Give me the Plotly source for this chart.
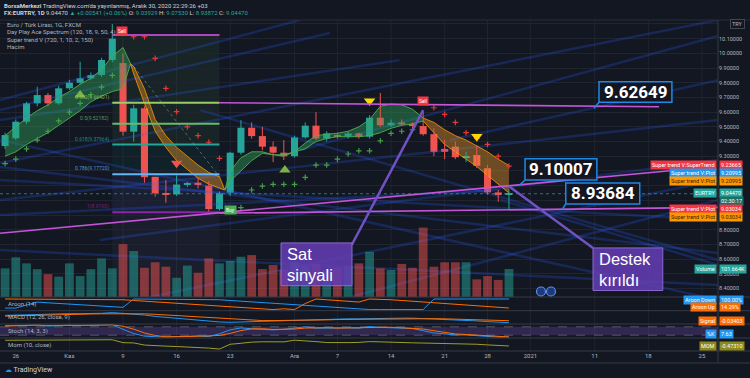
import plotly.graph_objects as go

# ---------------- DATA ----------------
idx = list(range(-1, 47))  # trading-day index, 0 = 26 Oct 2020
opens = [9.369, 9.422, 9.535, 9.660, 9.716, 9.660, 9.762, 9.800, 9.830, 9.853,
         9.955, 9.934, 9.467, 9.626, 9.160, 9.050, 9.040, 9.107, 9.120, 9.100,
         8.940, 9.052, 9.324, 9.494, 9.437, 9.365, 9.324, 9.300, 9.428, 9.508,
         9.420, 9.440, 9.437, 9.455, 9.433, 9.562, 9.510, 9.530, 9.520, 9.505,
         9.450, 9.350, 9.365, 9.293, 9.308, 9.218, 9.054, 9.03929]
highs = [9.46, 9.55, 9.67, 9.773, 9.73, 9.78, 9.82, 9.943, 9.87, 9.97,
         10.20, 10.00, 9.65, 9.64, 9.16, 9.139, 9.17, 9.125, 9.15, 9.13,
         9.06, 9.33, 9.545, 9.53, 9.50, 9.40, 9.41, 9.44, 9.53, 9.60,
         9.47, 9.46, 9.47, 9.46, 9.58, 9.73, 9.55, 9.55, 9.53, 9.60,
         9.49, 9.41, 9.40, 9.33, 9.376, 9.24, 9.07, 9.0753]
lows = [9.35, 9.41, 9.52, 9.64, 9.64, 9.65, 9.75, 9.79, 9.82, 9.84,
        9.94, 9.44, 9.40, 9.12, 9.025, 8.983, 9.03, 9.09, 9.08, 8.92,
        8.93, 9.03, 9.31, 9.42, 9.34, 9.26, 9.274, 9.29, 9.42, 9.41,
        9.40, 9.42, 9.42, 9.42, 9.42, 9.50, 9.50, 9.51, 9.50, 9.44,
        9.30, 9.28, 9.28, 9.26, 9.22, 9.04, 8.99, 8.93872]
closes = [9.444, 9.535, 9.660, 9.716, 9.660, 9.762, 9.800, 9.830, 9.852, 9.955,
          10.100, 9.467, 9.626, 9.157, 9.048, 9.040, 9.107, 9.115, 9.110, 8.940,
          9.047, 9.324, 9.494, 9.437, 9.365, 9.324, 9.300, 9.428, 9.508, 9.420,
          9.455, 9.437, 9.455, 9.433, 9.562, 9.510, 9.528, 9.516, 9.510, 9.450,
          9.330, 9.330, 9.293, 9.300, 9.235, 9.054, 9.036, 9.0447]
volume_k = [104, 144, 122, 101, 83, 74, 122, 76, 101, 140,
            104, 192, 167, 106, 126, 110, 70, 114, 88, 140,
            122, 131, 146, 152, 101, 116, 98, 127, 113, 120,
            98, 105, 113, 122, 164, 104, 98, 120, 106, 252,
            110, 126, 126, 126, 64, 76, 62, 101.664]

aroon_up = [100, 100, 100, 100, 93, 100, 100, 100, 100, 100,
            100, 93, 86, 79, 71, 64, 57, 50, 43, 36,
            29, 21, 14, 7, 0, 0, 7, 0, 57, 100,
            93, 86, 79, 71, 100, 100, 93, 86, 79, 71,
            64, 57, 50, 43, 36, 29, 21, 14.29]
aroon_down = [14, 14, 43, 71, 64, 57, 50, 43, 36, 29,
              28, 21, 100, 100, 100, 100, 100, 100, 100, 100,
              93, 86, 79, 71, 64, 57, 50, 43, 36, 29,
              21, 14, 7, 0, 0, 0, 0, 0, 7, 0,
              100, 100, 100, 100, 100, 100, 100, 100]
macd = [0.12, 0.13, 0.15, 0.16, 0.16, 0.17, 0.17, 0.17, 0.17, 0.18,
        0.20, 0.18, 0.17, 0.13, 0.09, 0.06, 0.03, 0.01, -0.01, -0.04,
        -0.07, -0.08, -0.07, -0.05, -0.04, -0.03, -0.03, -0.02, -0.01, 0.00,
        0.02, 0.02, 0.02, 0.02, 0.03, 0.04, 0.04, 0.04, 0.04, 0.03,
        0.02, 0.00, -0.02, -0.03, -0.04, -0.06, -0.08, -0.09]
signal = [0.10, 0.11, 0.12, 0.13, 0.14, 0.145, 0.15, 0.155, 0.16, 0.165,
          0.17, 0.175, 0.175, 0.165, 0.15, 0.13, 0.11, 0.09, 0.07, 0.05,
          0.03, 0.01, -0.01, -0.02, -0.03, -0.03, -0.03, -0.03, -0.025, -0.02,
          -0.01, 0.0, 0.005, 0.01, 0.015, 0.02, 0.025, 0.03, 0.03, 0.03,
          0.025, 0.02, 0.01, 0.0, -0.01, -0.02, -0.03, -0.03403]
stoch_k = [88, 90, 92, 93, 85, 90, 92, 90, 91, 94,
           96, 62, 32, 13, 8, 6, 10, 14, 15, 10,
           30, 58, 72, 66, 60, 58, 62, 72, 80, 70,
           72, 70, 72, 70, 82, 76, 73, 72, 68, 52,
           36, 30, 22, 22, 16, 9, 6, 7.63]
stoch_d = [85, 88, 90, 92, 90, 89, 89, 91, 91, 92,
           94, 84, 63, 36, 18, 9, 8, 10, 13, 13,
           18, 33, 53, 65, 66, 61, 60, 64, 71, 74,
           74, 71, 71, 71, 75, 76, 77, 74, 71, 64,
           52, 39, 29, 25, 20, 16, 10, 7.5]
mom = [0.60, 0.62, 0.66, 0.68, 0.62, 0.66, 0.68, 0.70, 0.72, 0.75,
       0.70, 0.15, 0.10, -0.30, -0.45, -0.50, -0.58, -0.65, -0.75, -0.87,
       -1.05, -0.15, 0.03, 0.25, 0.32, 0.28, 0.30, 0.62, 0.55, 0.35,
       0.17, 0.12, 0.16, 0.20, 0.35, 0.30, 0.20, 0.16, 0.12, 0.08,
       0.05, -0.02, -0.05, -0.08, -0.15, -0.27, -0.40, -0.4731]

# supertrend / spectrum bands
g1_x = [-1, 0, 1, 2, 3, 4, 5, 6, 7, 8, 9, 10, 10.7]
g1_hi = [9.44, 9.50, 9.56, 9.61, 9.65, 9.70, 9.74, 9.79, 9.83, 9.89, 9.98, 10.04, 9.93]
g1_lo = [9.30, 9.33, 9.38, 9.42, 9.46, 9.51, 9.56, 9.61, 9.67, 9.71, 9.74, 9.76, 9.93]
o1_x = [10.7, 11, 12, 13, 14, 15, 16, 17, 18, 19, 19.5]
o1_hi = [9.93, 9.91, 9.76, 9.55, 9.44, 9.36, 9.30, 9.24, 9.19, 9.16, 9.07]
o1_lo = [9.93, 9.86, 9.66, 9.47, 9.36, 9.27, 9.21, 9.15, 9.11, 9.08, 9.07]
g2_x = [19.5, 20, 21, 22, 23, 24, 25, 26, 27, 28, 29, 30, 31, 32, 33, 34, 35, 36, 37, 38]
g2_hi = [9.07, 9.20, 9.29, 9.33, 9.33, 9.31, 9.31, 9.33, 9.39, 9.44, 9.45, 9.456, 9.47, 9.50, 9.55, 9.64, 9.655, 9.65, 9.62, 9.56]
g2_lo = [9.07, 9.13, 9.20, 9.27, 9.32, 9.31, 9.30, 9.33, 9.35, 9.40, 9.42, 9.433, 9.433, 9.433, 9.44, 9.46, 9.49, 9.51, 9.52, 9.54]
o2_x = [38, 39, 40, 41, 42, 43, 44, 45, 46]
o2_hi = [9.56, 9.53, 9.48, 9.44, 9.41, 9.37, 9.33, 9.28, 9.237]
o2_lo = [9.54, 9.46, 9.38, 9.33, 9.28, 9.23, 9.17, 9.11, 9.05]

green_dot_x = [-1, 0, 1, 2, 3, 4, 5, 6, 7, 8, 9, 21, 22, 23, 24, 25, 26, 27, 28, 29, 30, 31, 32, 33, 34, 35, 36, 37]
green_dot_y = [9.25, 9.28, 9.35, 9.41, 9.47, 9.54, 9.60, 9.66, 9.72, 9.77, 9.85, 8.95, 9.07, 9.097, 9.109,
               9.109, 9.109, 9.156, 9.24, 9.24, 9.28, 9.315, 9.337, 9.337, 9.405, 9.456, 9.47, 9.48]
red_dot_x = [11, 12, 13, 14, 15, 16, 17, 18, 19, 39, 40, 41, 42, 43, 44, 45, 46]
red_dot_y = [10.113, 10.113, 9.966, 9.762, 9.603, 9.50, 9.44, 9.395, 9.286,
             9.63, 9.585, 9.53, 9.46, 9.42, 9.38, 9.30, 9.233]
tri_up_x, tri_up_y = [6, 25.1], [9.716, 9.206]
tri_red_x, tri_red_y = [15], [9.252]
tri_yel_x, tri_yel_y = [33, 43], [9.675, 9.435]
signal_labels = [("Sell", 9.9, 10.15, "#f23645"), ("Sell", 38.0, 9.675, "#f23645"), ("Buy", 20.0, 8.937, "#4caf50")]

fib_ratio = ["0", "0.382", "0.5", "0.618", "0.786", "1"]
fib_price = [10.12431, 9.66401, 9.52182, 9.37964, 9.17720, 8.91930]
fib_x0, fib_x1 = 9, 19

trend_lines = [  # (x0, y0, x1, y1)
    (19, 9.664, 60, 9.637),
    (-1.47, 8.776, 61, 9.201),
    (19, 8.912, 65.5, 8.952),
]
spectrum_lines = [
    (-1.47, 9.254, 65.5, 10.227), (26.5, 9.342, 65.5, 10.118), (40.5, 9.41, 65.5, 9.818),
    (-1.47, 9.002, 65.5, 9.546), (-1.47, 9.138, 65.5, 8.866), (-1.47, 9.41, 65.5, 8.322),
    (-1.47, 8.90, 45.2, 9.07), (7.85, 8.73, 65.5, 9.274), (-1.47, 8.662, 65.5, 8.424),
    (17.2, 9.614, 65.5, 8.594), (-1.47, 9.546, 35.8, 9.954), (-1.47, 9.682, 26.5, 10.227),
    (31.2, 8.342, 65.5, 9.002), (45.2, 9.002, 65.5, 8.56), (-1.47, 9.226, 65.5, 8.641),
    (-1.47, 9.614, 29.3, 10.138), (12.5, 8.342, 65.5, 9.138),
]
callout_values = ["9.62649", "9.10007", "8.93684"]
callout_tip_x = [53.94, 46.94, 50.95]
callout_box = [(54.4, 61.2, 9.667, 9.807), (47.5, 54.2, 9.138, 9.283), (51.3, 58.2, 8.975, 9.118)]
note_text = [("Sat", "sinyali"), ("Destek", "kırıldı")]
note_box = [(24.74, 31.36, 8.419, 8.710), (53.84, 60.35, 8.386, 8.676)]
note_ptr = [(31.33, 8.696, 38.0, 9.614), (53.84, 8.676, 46.06, 9.093)]

date_tick_idx = [0, 5, 10, 15, 20, 26, 30, 35, 40, 44, 48, 54, 59, 64]
date_tick_txt = ["26", "Kas", "9", "16", "23", "Ara", "7", "14", "21", "28", "2021", "11", "18", "25"]
price_ticks = [8.4, 8.5, 8.6, 8.7, 8.8, 8.9, 9.0, 9.1, 9.2, 9.3, 9.4, 9.5, 9.6, 9.7, 9.8, 9.9, 10.0, 10.1, 10.2]
price_hidden = [8.9, 9.0, 9.1, 9.2, 10.2]   # covered by label boxes in the reference

last_price = 9.0447

# ---------------- LAYOUT HELPERS ----------------
W, H = 750, 378
ML, MR, MT, MB = 0, 32, 20, 27
PW, PH = W - ML - MR, H - MT - MB
BG = "#131722"
GRID = "#20242f"
TXT = "#b2b5be"
FONT = "Roboto, Liberation Sans, sans-serif"


def PX(x):
    return (x - ML) / PW


def PY(y):
    return (H - MB - y) / PH


UP, DN = "#26a69a", "#ef5350"

fig = go.Figure()

# volume
vol_col = ["rgba(38,166,154,0.5)" if c >= o else "rgba(239,83,80,0.5)" for o, c in zip(opens, closes)]
fig.add_trace(go.Bar(x=idx, y=volume_k, marker=dict(color=vol_col, line=dict(width=0)), width=0.82,
                     yaxis="y2", hoverinfo="skip"))

# spectrum lines
sx, sy = [], []
for x0, y0, x1, y1 in spectrum_lines:
    sx += [x0, x1, None]
    sy += [y0, y1, None]
fig.add_trace(go.Scatter(x=sx, y=sy, mode="lines", line=dict(color="rgba(41,98,255,0.24)", width=2.5),
                         hoverinfo="skip"))


def band(xs, hi, lo, fill, edge):
    fig.add_trace(go.Scatter(x=xs, y=hi, mode="lines", line=dict(color=edge, width=1), hoverinfo="skip"))
    fig.add_trace(go.Scatter(x=xs, y=lo, mode="lines", line=dict(color=edge, width=1), fill="tonexty",
                             fillcolor=fill, hoverinfo="skip"))


GF, GE = "rgba(46,160,90,0.45)", "rgba(76,175,80,0.9)"
OF, OE = "rgba(230,150,40,0.42)", "rgba(255,152,0,0.8)"
band(g1_x, g1_hi, g1_lo, GF, GE)
band(o1_x, o1_hi, o1_lo, OF, OE)
band(g2_x, g2_hi, g2_lo, GF, GE)
band(o2_x, o2_hi, o2_lo, OF, OE)

# candles: wicks as lines, bodies as bars on the price axis
for is_up, col in [(True, UP), (False, DN)]:
    wx, wy, bx, bh, bb = [], [], [], [], []
    for i, o, h, l, c in zip(idx, opens, highs, lows, closes):
        if (c >= o) != is_up:
            continue
        wx += [i, i, None]
        wy += [l, h, None]
        bx.append(i)
        bb.append(min(o, c))
        bh.append(max(abs(c - o), 0.004))
    fig.add_trace(go.Scatter(x=wx, y=wy, mode="lines", line=dict(color=col, width=1), hoverinfo="skip"))
    fig.add_trace(go.Bar(x=bx, y=bh, base=bb, width=0.66, marker=dict(color=col, line=dict(width=0)),
                         hoverinfo="skip"))

# dots and triangles
fig.add_trace(go.Scatter(x=green_dot_x, y=green_dot_y, mode="markers",
                         marker=dict(symbol="cross-thin", size=4, line=dict(color="#43a047", width=1.2)), hoverinfo="skip"))
fig.add_trace(go.Scatter(x=red_dot_x, y=red_dot_y, mode="markers",
                         marker=dict(symbol="cross-thin", size=4, line=dict(color="#e53935", width=1.2)), hoverinfo="skip"))
fig.add_trace(go.Scatter(x=tri_up_x, y=tri_up_y, mode="markers",
                         marker=dict(symbol="triangle-up", size=10, color="#7cb342"), hoverinfo="skip"))
fig.add_trace(go.Scatter(x=tri_red_x, y=tri_red_y, mode="markers",
                         marker=dict(symbol="triangle-down", size=10, color="#ef5350"), hoverinfo="skip"))
fig.add_trace(go.Scatter(x=tri_yel_x, y=tri_yel_y, mode="markers",
                         marker=dict(symbol="triangle-down", size=10, color="#ffd600"), hoverinfo="skip"))

# sub-indicators
fig.add_trace(go.Scatter(x=idx, y=aroon_up, yaxis="y3", mode="lines", line=dict(color="#ff6d00", width=1), hoverinfo="skip"))
fig.add_trace(go.Scatter(x=idx, y=aroon_down, yaxis="y3", mode="lines", line=dict(color="#2196f3", width=1), hoverinfo="skip"))
fig.add_trace(go.Scatter(x=idx, y=macd, yaxis="y4", mode="lines", line=dict(color="#2196f3", width=1), hoverinfo="skip"))
fig.add_trace(go.Scatter(x=idx, y=signal, yaxis="y4", mode="lines", line=dict(color="#ff6d00", width=1), hoverinfo="skip"))
fig.add_trace(go.Scatter(x=idx, y=stoch_k, yaxis="y5", mode="lines", line=dict(color="#2196f3", width=1), hoverinfo="skip"))
fig.add_trace(go.Scatter(x=idx, y=stoch_d, yaxis="y5", mode="lines", line=dict(color="#ff6d00", width=1), hoverinfo="skip"))
fig.add_trace(go.Scatter(x=idx, y=mom, yaxis="y6", mode="lines", line=dict(color="#9e9d24", width=1), hoverinfo="skip"))

shapes = []
ann = []

# vertical grid lines
for t in date_tick_idx:
    shapes.append(dict(type="line", xref="x", yref="paper", x0=t, x1=t, y0=0, y1=1,
                       line=dict(color=GRID, width=1), layer="below"))

# fib box
fib_fills = [(fib_price[0], fib_price[3], "rgba(76,175,80,0.09)"),
             (fib_price[3], fib_price[4], "rgba(0,150,136,0.08)"),
             (fib_price[4], fib_price[5], "rgba(90,110,220,0.10)"),
             (fib_price[5], 8.342, "rgba(150,160,200,0.06)")]
for y0, y1, c in fib_fills:
    shapes.append(dict(type="rect", xref="x", yref="y", x0=fib_x0, x1=fib_x1, y0=y1, y1=y0,
                       fillcolor=c, line=dict(width=0), layer="below"))
fib_colors = ["#ab47bc", "#9ccc65", "#66bb6a", "#26a69a", "#64b5f6", "#8e24aa"]
for r, p, c in zip(fib_ratio, fib_price, fib_colors):
    shapes.append(dict(type="line", xref="x", yref="y", x0=fib_x0, x1=fib_x1, y0=p, y1=p,
                       line=dict(color=c, width=2), layer="above"))
    if r == "0":
        continue  # hidden behind the legend in the reference
    ann.append(dict(x=fib_x0 - 0.15, y=p, xref="x", yref="y", xanchor="right", yanchor="bottom",
                    text=f"{r}({p:.5f})".replace("8.91930", "8.9193"), showarrow=False,
                    font=dict(size=5, color=c, family=FONT), opacity=0.8))

# dotted helper line from sell
shapes.append(dict(type="line", xref="x", yref="y", x0=11, y0=9.91, x1=19, y1=9.16,
                   line=dict(color="rgba(178,181,190,0.45)", width=1, dash="dot"), layer="above"))

# trend lines
for x0, y0, x1, y1 in trend_lines:
    shapes.append(dict(type="line", xref="x", yref="y", x0=x0, y0=y0, x1=x1, y1=y1,
                       line=dict(color="#c455d9", width=1.6), layer="above"))

# last price line
shapes.append(dict(type="line", xref="paper", yref="y", x0=0, x1=1, y0=last_price, y1=last_price,
                   line=dict(color="rgba(38,166,154,0.7)", width=1, dash="dot"), layer="above"))

# callouts
for v, tx, (bx0, bx1, by0, by1) in zip(callout_values, callout_tip_x, callout_box):
    tip = float(v)
    shapes.append(dict(type="line", xref="x", yref="y", x0=bx0, y0=by0, x1=tx, y1=tip,
                       line=dict(color="#1e88e5", width=1.5), layer="above"))
    shapes.append(dict(type="rect", xref="x", yref="y", x0=bx0, x1=bx1, y0=by0, y1=by1,
                       fillcolor="rgba(19,23,34,0.92)", line=dict(color="#1e88e5", width=1.5), layer="above"))
    ann.append(dict(x=(bx0 + bx1) / 2, y=(by0 + by1) / 2, xref="x", yref="y", text=f"<b>{v}</b>",
                    showarrow=False, font=dict(size=17, color="#ffffff", family=FONT)))

# notes (Sat sinyali / Destek kırıldı)
for (l1, l2), (bx0, bx1, by0, by1), (px0, py0, px1, py1) in zip(note_text, note_box, note_ptr):
    shapes.append(dict(type="line", xref="x", yref="y", x0=px0, y0=py0, x1=px1, y1=py1,
                       line=dict(color="#7252c2", width=2.5), layer="above"))
    shapes.append(dict(type="rect", xref="x", yref="y", x0=bx0, x1=bx1, y0=by0, y1=by1,
                       fillcolor="rgba(98,62,178,0.88)", line=dict(color="#8a68d0", width=1), layer="above"))
    ann.append(dict(x=bx0 + 0.4, y=(by0 + by1) / 2, xref="x", yref="y", xanchor="left", yanchor="middle",
                    text=f"{l1}<br>{l2}", showarrow=False, align="left",
                    font=dict(size=16.5, color="#ffffff", family="Liberation Sans, sans-serif")))

# Sell / Buy labels
for t, x, y, c in signal_labels:
    ann.append(dict(x=x, y=y, xref="x", yref="y", text=t, showarrow=False, bgcolor=c, borderpad=1,
                    font=dict(size=5, color="#ffffff", family=FONT)))

# pane separators & borders
for ypx in [297, 310.7, 324, 338, 351, 363]:
    shapes.append(dict(type="line", xref="paper", yref="paper", x0=0, x1=PX(W), y0=PY(ypx), y1=PY(ypx),
                       line=dict(color="#363a45", width=1), layer="above"))
shapes.append(dict(type="line", xref="paper", yref="paper", x0=PX(718), x1=PX(718), y0=PY(20), y1=PY(363),
                   line=dict(color="#363a45", width=1), layer="above"))
shapes.append(dict(type="line", xref="paper", yref="paper", x0=0, x1=PX(W), y0=PY(20), y1=PY(20),
                   line=dict(color="#2a2e39", width=1), layer="above"))

# stoch band
shapes.append(dict(type="rect", xref="paper", yref="y5", x0=0, x1=1, y0=20, y1=80,
                   fillcolor="rgba(126,87,194,0.28)", line=dict(width=0), layer="below"))
for lv in [20, 80]:
    shapes.append(dict(type="line", xref="paper", yref="y5", x0=0, x1=1, y0=lv, y1=lv,
                       line=dict(color="rgba(120,123,134,0.6)", width=1, dash="dash"), layer="below"))

# small icons near bottom
for cx in [541, 551]:
    shapes.append(dict(type="circle", xref="paper", yref="paper", x0=PX(cx - 4.5), x1=PX(cx + 4.5),
                       y0=PY(296), y1=PY(287), fillcolor="#1c3a7a", line=dict(color="#5b8def", width=1.2)))

# header text
ann.append(dict(x=PX(2), y=PY(5.5), xref="paper", yref="paper", xanchor="left", yanchor="middle", showarrow=False,
                text="<b>BorsaMerkezi</b> TradingView.com'da yayınlanmış, Aralık 30, 2020 22:29:26 +03",
                font=dict(size=6, color="#d1d4dc", family=FONT)))
teal = "#26a69a"
ann.append(dict(x=PX(2), y=PY(12.5), xref="paper", yref="paper", xanchor="left", yanchor="middle", showarrow=False,
                text=(f"<b>FX:EURTRY, 1D</b> 9.04470 <span style='color:{teal}'>▲ +0.00541 (+0.06%)</span> "
                      f"O: <span style='color:{teal}'>9.03929</span> H: <span style='color:{teal}'>9.07530</span> "
                      f"L: <span style='color:{teal}'>8.93872</span> C: <span style='color:{teal}'>9.04470</span>"),
                font=dict(size=6, color="#d1d4dc", family=FONT)))
legend_lines = ["Euro / Türk Lirası, 1G, FXCM", "Day Play Ace Spectrum (120, 18, 9, 50, 4)",
                "Super trend V (720, 1, 10, 2, 150)", "Hacim"]
for i, t in enumerate(legend_lines):
    ann.append(dict(x=PX(5), y=PY(25 + i * 7.3), xref="paper", yref="paper", xanchor="left", yanchor="middle",
                    showarrow=False, text=t, font=dict(size=6, color=TXT, family=FONT)))
pane_titles = ["Aroon (14)", "MACD (12, 26, close, 9)", "Stoch (14, 3, 3)", "Mom (10, close)"]
for t, ypx in zip(pane_titles, [304, 317.3, 330.7, 344.7]):
    ann.append(dict(x=PX(6), y=PY(ypx), xref="paper", yref="paper", xanchor="left", yanchor="middle",
                    showarrow=False, text=t, font=dict(size=6, color=TXT, family=FONT)))

# right-side labels
label_names = ["Super trend V:SuperTrend", "Super trend V:Plot", "Super trend V:Plot", "EURTRY", "",
               "Super trend V:Plot", "Super trend V:Plot", "Volume", "Aroon Down", "Aroon Up", "Signal", "%K", "MOM"]
label_values = ["9.23665", "9.20995", "9.20995", "9.04470", "02:30:17", "9.03034", "9.03034",
                "101.664K", "100.00%", "14.29%", "-0.03403", "7.63", "-0.47310"]
label_colors = ["#f23645", "#2196f3", "#ff9800", "#26a69a", "#1b6f67", "#f23645", "#ff9800",
                "#26a69a", "#2196f3", "#ff6d00", "#ff6d00", "#2196f3", "#8c8a1c"]
label_txtcol = ["#fff", "#fff", "#3a1c00", "#fff", "#fff", "#fff", "#3a1c00", "#fff", "#fff", "#fff", "#fff", "#fff", "#fff"]
label_ypx = [165.3, 173, 181, 193, 201, 209, 216.7, 269, 300, 307, 320.7, 334, 345.7]
for n, v, c, tc, ypx in zip(label_names, label_values, label_colors, label_txtcol, label_ypx):
    if n:
        ann.append(dict(x=PX(717), y=PY(ypx), xref="paper", yref="paper", xanchor="right", yanchor="middle",
                        showarrow=False, text=n, bgcolor=c, borderpad=1,
                        font=dict(size=5.5, color=tc, family=FONT)))
    ann.append(dict(x=PX(719), y=PY(ypx), xref="paper", yref="paper", xanchor="left", yanchor="middle",
                    showarrow=False, text=v, bgcolor=c, borderpad=1,
                    font=dict(size=5.5, color=tc, family=FONT)))
ann.append(dict(x=PX(737), y=PY(24), xref="paper", yref="paper", xanchor="center", yanchor="middle",
                showarrow=False, text="TRY", bgcolor=BG, bordercolor="#434651", borderwidth=1, borderpad=1,
                font=dict(size=5.5, color=TXT, family=FONT)))
# bottom logo
ann.append(dict(x=PX(3), y=PY(370), xref="paper", yref="paper", xanchor="left", yanchor="middle",
                showarrow=False, text="<span style='color:#2196f3'>☁</span> TradingView",
                font=dict(size=7, color="#d1d4dc", family=FONT)))

ax_common = dict(showline=False, zeroline=False, fixedrange=True, automargin=False)
fig.update_layout(
    width=W, height=H, template="none",
    margin=dict(l=ML, r=MR, t=MT, b=MB, pad=0),
    paper_bgcolor=BG, plot_bgcolor=BG, showlegend=False, barmode="overlay",
    font=dict(family=FONT, color=TXT, size=6),
    xaxis=dict(range=[-1.474, 65.5], tickvals=date_tick_idx, ticktext=date_tick_txt, showgrid=False,
               anchor="y6", ticks="", tickfont=dict(size=6, color=TXT), **ax_common),
    yaxis=dict(domain=[PY(297), 1], range=[8.342, 10.227], side="right", anchor="x",
               tickvals=price_ticks,
               ticktext=["" if p in price_hidden else f"{p:.5f}" for p in price_ticks], ticks="",
               showgrid=True, gridcolor=GRID, gridwidth=1, tickfont=dict(size=5.5, color=TXT), **ax_common),
    yaxis2=dict(overlaying="y", range=[0, 1005], visible=False, **ax_common),
    yaxis3=dict(domain=[PY(310.7), PY(297)], range=[-11, 119], anchor="x", showticklabels=False, showgrid=False, **ax_common),
    yaxis4=dict(domain=[PY(324), PY(310.7)], range=[-0.129, 0.255], anchor="x", showticklabels=False, showgrid=False, **ax_common),
    yaxis5=dict(domain=[PY(338), PY(324)], range=[0, 100], anchor="x", showticklabels=False, showgrid=False, **ax_common),
    yaxis6=dict(domain=[0, PY(338)], range=[-1.42, 1.03], anchor="x", showticklabels=False, showgrid=False, **ax_common),
    shapes=shapes, annotations=ann,
)

fig.write_html("out.html", config={"displayModeBar": False},
               post_script="document.body.style.margin='0';document.body.style.overflow='hidden';")
